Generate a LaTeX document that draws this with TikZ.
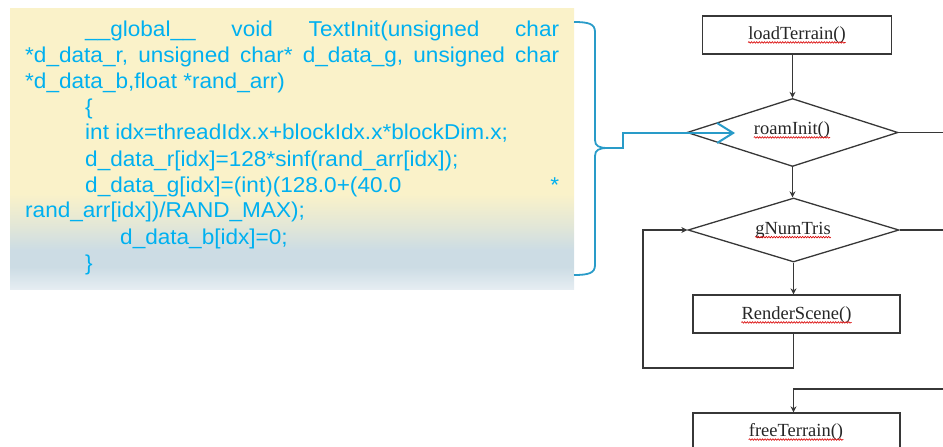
\documentclass[tikz,border=0pt]{standalone}
\usepackage{fontspec}
\setmainfont{Liberation Serif}
\newfontfamily\codefont[FakeStretch=1.05]{Liberation Sans}
\usetikzlibrary{shapes.geometric,arrows.meta,decorations.pathmorphing}
\definecolor{codeblue}{RGB}{0,176,240}
\definecolor{bracecol}{RGB}{41,155,200}
\definecolor{cyel}{RGB}{250,242,201}
\definecolor{cblue}{RGB}{204,220,228}
\definecolor{cbot}{RGB}{230,237,242}
\definecolor{flowline}{RGB}{55,55,55}
\pgfdeclareverticalshading{codebg}{100bp}{color(0bp)=(cbot); color(25bp)=(cbot); color(29bp)=(cblue); color(32bp)=(cblue); color(36.5bp)=(cblue!50!cyel); color(42bp)=(cyel); color(75bp)=(cyel); color(100bp)=(cyel)}
\begin{document}
\begin{tikzpicture}[x=1pt,y=-1pt,
  codetxt/.style={anchor=base west, inner sep=0pt, text=codeblue, font={\codefont\fontsize{21.5}{26}\selectfont}},
  bracestyle/.style={draw=bracecol, line width=1.8pt},
  bluearrow/.style={draw=bracecol, line width=2pt, -{Straight Barb[length=16pt,width=20pt,line width=2pt]}},
  fbox/.style={draw=flowline, line width=1.3pt, minimum height=38pt, inner sep=0pt},
  fdia/.style={draw=flowline, line width=1.3pt, diamond, inner sep=0pt},
  flbl/.style={inner sep=0pt, font={\fontsize{18.5}{20}\selectfont}, text=black!85},
  fline/.style={draw=flowline, line width=1.3pt},
  farrow/.style={draw=flowline, line width=1.3pt, -{Stealth[length=6pt,width=6pt]}},
  wavy/.style={draw=red!85!black, line width=0.6pt, decorate, decoration={snake, amplitude=0.8pt, segment length=2.6pt}}]
\useasboundingbox (0,0) rectangle (943,447);
\clip (0,0) rectangle (943,447);

% code box
\node[shade, shading=codebg, minimum width=564pt, minimum height=281pt, inner sep=0pt, anchor=north west] (code) at (10,8) {};
\node[codetxt] (l1) at (85,36) {\hbox to 474pt{\_\_global\_\_\hfill void\hfill TextInit(unsigned\hfill char}};
\node[codetxt] (l2) at (25,62) {\hbox to 534pt{*d\_data\_r,\hfill unsigned\hfill char*\hfill d\_data\_g,\hfill unsigned\hfill char}};
\node[codetxt] (l3) at (25,88) {*d\_data\_b,float *rand\_arr)};
\node[codetxt] (l4) at (85,114) {\{};
\node[codetxt] (l5) at (85,139) {int idx=threadIdx.x+blockIdx.x*blockDim.x;};
\node[codetxt] (l6) at (85,166) {d\_data\_r[idx]=128*sinf(rand\_arr[idx]);};
\node[codetxt] (l7) at (85,192) {\hbox to 474pt{d\_data\_g[idx]=(int)(128.0+(40.0\hfill *}};
\node[codetxt] (l8) at (25,217) {rand\_arr[idx])/RAND\_MAX);};
\node[codetxt] (l9) at (120,244) {d\_data\_b[idx]=0;};
\node[codetxt] (l10) at (85,270) {\}};

% flowchart shapes
\node[fbox, minimum width=189pt] (load) at (797,35) {};
\node[fdia, minimum width=211pt, minimum height=68pt] (roam) at (792.5,132.5) {};
\node[fdia, minimum width=211pt, minimum height=64pt] (gnum) at (793.5,230) {};
\node[fbox, minimum width=207pt] (render) at (796.5,314) {};
\node[fbox, minimum width=207pt] (free) at (796.5,432) {};

% labels
\node[flbl] (loadT) at (797,35) {loadTerrain()};
\node[flbl] (roamT) at (792,130) {roamInit()};
\node[flbl] (gnumT) at (793,230) {gNumTris};
\node[flbl] (renderT) at (796.5,315) {RenderScene()};
\node[flbl] (freeT) at (796,432) {freeTerrain()};
\foreach \t in {loadT,roamT,gnumT,renderT,freeT}{
  \draw[wavy] ([yshift=-3pt]\t.base west) -- ([yshift=-3pt]\t.base east);
}

% free-end coordinates
\coordinate (re1) at (946,132.5);
\coordinate (re2) at (946,230);
\coordinate (ft) at (946,389);
\coordinate (lp1) at (643,368);

% connectors
\draw[farrow] (load.south -| roam.north) -- (roam.north);
\draw[farrow] (roam.south) -- (roam.south |- gnum.north);
\draw[farrow] (gnum.south) -- (gnum.south |- render.north);
\draw[fline] (roam.east) -- (re1);
\draw[fline] (gnum.east) -- (re2);
\draw[farrow] (render.south -| gnum.south) |- (lp1) |- (gnum.west);
\draw[farrow] (ft) -- (ft -| gnum.south) -- (free.north -| gnum.south);

% brace and blue arrow
\coordinate (btip) at (608,148);
\coordinate (k1) at (623,148);
\coordinate (k2) at (623,133);
\coordinate (arrtip) at (735,133);
\draw[bracestyle] (574,22) .. controls (589,22) and (595,24) .. (595,32) -- (595,140) .. controls (595,146) and (599,148) .. (btip) .. controls (599,148) and (595,150) .. (595,156) -- (595,265) .. controls (595,273) and (589,275) .. (574,275);
\draw[bluearrow] (btip) -- (k1) -- (k2) -- (arrtip);
\end{tikzpicture}
\end{document}
